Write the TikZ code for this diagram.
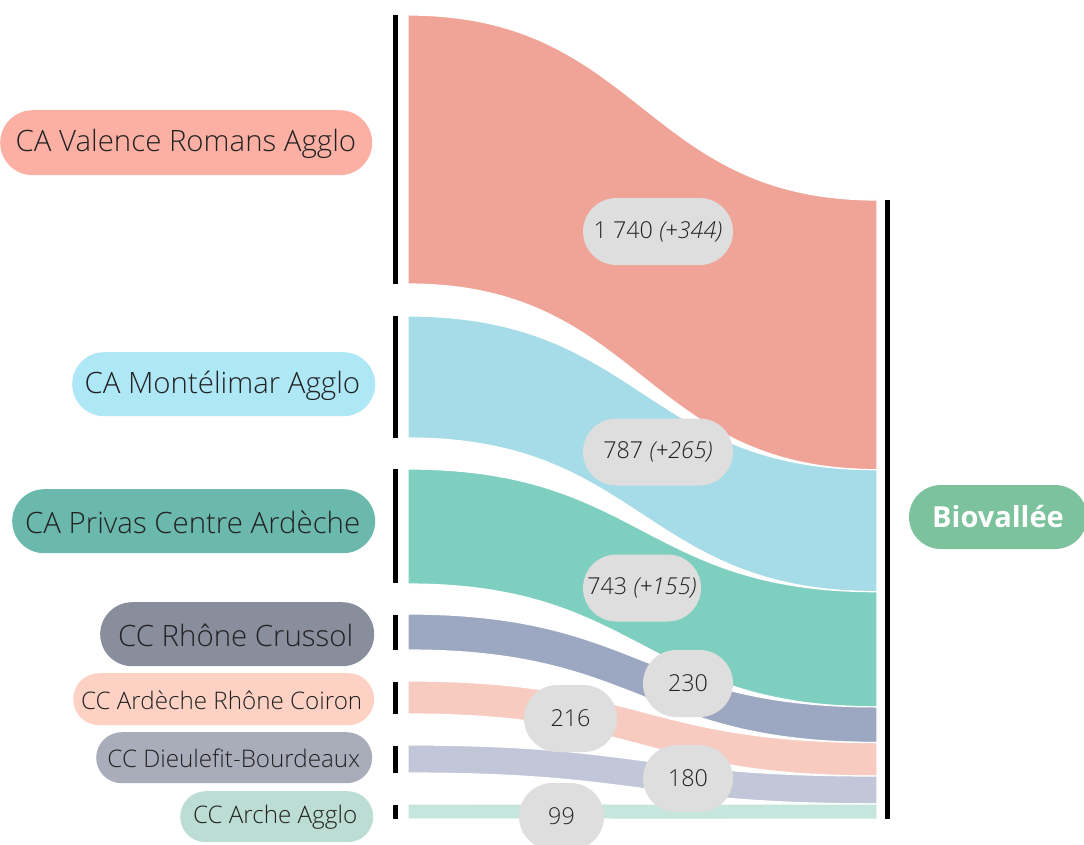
\documentclass[tikz,border=0pt]{standalone}
\usepackage{fontspec}
\setmainfont{Open Sans Light}[BoldFont={Open Sans Bold},ItalicFont={Open Sans Light Italic}]
\definecolor{fValence}{HTML}{F0A498}
\definecolor{lValence}{HTML}{FCB0A4}
\definecolor{fMonte}{HTML}{A6DBE8}
\definecolor{lMonte}{HTML}{AEE8F6}
\definecolor{fPrivas}{HTML}{7FCFC1}
\definecolor{lPrivas}{HTML}{6BB9AC}
\definecolor{fCrussol}{HTML}{9CA8C2}
\definecolor{lCrussol}{HTML}{898E9D}
\definecolor{fArdeche}{HTML}{F7CBBF}
\definecolor{lArdeche}{HTML}{FDD1C3}
\definecolor{fDieu}{HTML}{C1C7D8}
\definecolor{lDieu}{HTML}{A9ADBA}
\definecolor{fArche}{HTML}{C5E6DC}
\definecolor{lArche}{HTML}{BCDDD3}
\definecolor{lBio}{HTML}{7CC29D}
\definecolor{pillgray}{HTML}{DEDEDE}
\definecolor{txt}{HTML}{222222}
\newcommand\myflow[5]{\fill[#1, draw=white, line width=1.2pt] (408,#2) .. controls (642.5,#2) and (642.5,#4) .. (877,#4) -- (877,#5) .. controls (642.5,#5) and (642.5,#3) .. (408,#3) -- cycle;}
\tikzset{
  pillbox/.style={anchor=north west, inner sep=0pt},
  bigtxt/.style={anchor=east, inner sep=0pt, text=txt, font=\fontsize{29.4}{33}\selectfont},
  smalltxt/.style={anchor=east, inner sep=0pt, text=txt, font=\fontsize{24.2}{28}\selectfont},
  bar/.style={line width=5pt, black},
  valpill/.style={fill=pillgray, text=txt, inner sep=0pt, font=\fontsize{23.3}{27}\selectfont}
}
\begin{document}
\begin{tikzpicture}[x=1pt,y=-1pt]
\useasboundingbox (0,0) rectangle (1084,844);
% flows
\myflow{fValence}{15}{284}{200}{469.7}
\myflow{fMonte}{316}{438}{469.7}{591.7}
\myflow{fPrivas}{469}{584}{591.7}{706.9}
\myflow{fCrussol}{614}{650}{706.9}{742.5}
\myflow{fArdeche}{681}{714}{742.5}{776.0}
\myflow{fDieu}{745}{773}{776.0}{803.9}
\myflow{fArche}{804}{819}{803.9}{819.2}
% bars
\coordinate (b1t) at (395.5,15);  \coordinate (b1b) at (395.5,284);
\coordinate (b2t) at (395.5,316); \coordinate (b2b) at (395.5,438);
\coordinate (b3t) at (395.5,469); \coordinate (b3b) at (395.5,583);
\coordinate (b4t) at (395.5,615); \coordinate (b4b) at (395.5,650);
\coordinate (b5t) at (395.5,682); \coordinate (b5b) at (395.5,714);
\coordinate (b6t) at (395.5,746); \coordinate (b6b) at (395.5,773);
\coordinate (b7t) at (395.5,805); \coordinate (b7b) at (395.5,819);
\coordinate (brt) at (887.5,200); \coordinate (brb) at (887.5,819);
\foreach \i in {1,...,7} {\draw[bar] (b\i t) -- (b\i b);}
\draw[bar] (brt) -- (brb);
% source labels
\node[pillbox, fill=lValence, minimum width=372pt, minimum height=65pt, rounded corners=32.5pt] (valenceBox) at (0,110) {};
\node[bigtxt] (valence) at ([xshift=-16pt,yshift=-1.5pt]valenceBox.east) {CA Valence Romans Agglo};
\node[pillbox, fill=lMonte, minimum width=303pt, minimum height=64pt, rounded corners=32pt] (monteBox) at (72,352) {};
\node[bigtxt] (monte) at ([xshift=-15pt,yshift=-1.5pt]monteBox.east) {CA Montélimar Agglo};
\node[pillbox, fill=lPrivas, minimum width=363pt, minimum height=64pt, rounded corners=32pt] (privasBox) at (12,489) {};
\node[bigtxt] (privas) at ([xshift=-15pt,yshift=-1.5pt]privasBox.east) {CA Privas Centre Ardèche};
\node[pillbox, fill=lCrussol, minimum width=274pt, minimum height=64pt, rounded corners=32pt] (crussolBox) at (100,602) {};
\node[bigtxt] (crussol) at ([xshift=-21pt,yshift=-1.5pt]crussolBox.east) {CC Rhône Crussol};
\node[pillbox, fill=lArdeche, minimum width=301pt, minimum height=52pt, rounded corners=26pt] (ardecheBox) at (73,673) {};
\node[smalltxt] (ardeche) at ([xshift=-12pt,yshift=-1pt]ardecheBox.east) {CC Ardèche Rhône Coiron};
\node[pillbox, fill=lDieu, minimum width=276pt, minimum height=51pt, rounded corners=25.5pt] (dieuBox) at (96,732) {};
\node[smalltxt] (dieu) at ([xshift=-12pt,yshift=-1pt]dieuBox.east) {CC Dieulefit-Bourdeaux};
\node[pillbox, fill=lArche, minimum width=193pt, minimum height=51pt, rounded corners=25.5pt] (archeBox) at (180,791) {};
\node[smalltxt] (arche) at ([xshift=-16pt,yshift=-1pt]archeBox.east) {CC Arche Agglo};
% target label
\node[fill=lBio, text=white, inner sep=0pt, minimum width=178pt, minimum height=64pt, rounded corners=32pt, font=\bfseries\fontsize{29}{33}\selectfont] (bio) at (998,517) {Biovallée};
% value labels
\node[valpill, minimum width=150pt, minimum height=67pt, rounded corners=33.5pt] (v1) at (658,231.5) {1 740 \textit{(+344)}};
\node[valpill, minimum width=150pt, minimum height=67pt, rounded corners=33.5pt] (v2) at (658,452) {787 \textit{(+265)}};
\node[valpill, minimum width=118pt, minimum height=67pt, rounded corners=33.5pt] (v3) at (642,588) {743 \textit{(+155)}};
\node[valpill, minimum width=90pt, minimum height=67pt, rounded corners=33.5pt] (v4) at (688,683.5) {230};
\node[valpill, minimum width=93pt, minimum height=67pt, rounded corners=33.5pt] (v5) at (570.5,718.5) {216};
\node[valpill, minimum width=90pt, minimum height=67pt, rounded corners=33.5pt] (v6) at (688,778.5) {180};
\node[valpill, minimum width=85pt, minimum height=67pt, rounded corners=33.5pt] (v7) at (561.5,816.5) {99};
\end{tikzpicture}
\end{document}
